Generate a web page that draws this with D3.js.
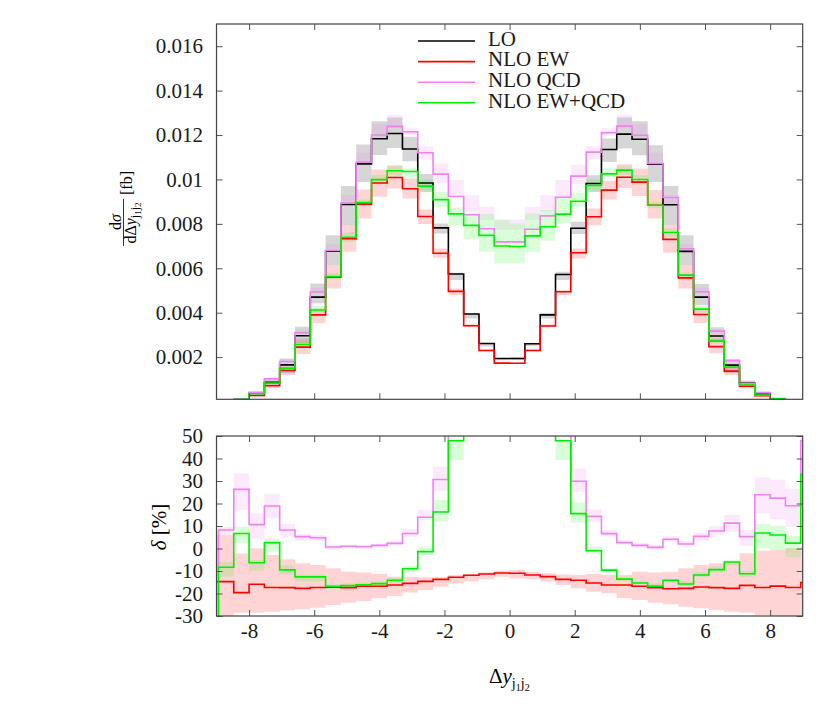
<!DOCTYPE html>
<html><head><meta charset="utf-8">
<script src="https://cdn.jsdelivr.net/npm/d3@7"></script>
<style>
svg text { font-family: "Liberation Serif", "Times New Roman", serif !important; }
</style>
</head><body style="margin:0;background:#fff"><svg id="c" width="830" height="727" font-family="Liberation Serif"></svg>
<script>
// ---------- bin edges ----------
const edgesTop = [-8.47,-8.00,-7.53,-7.06,-6.59,-6.12,-5.65,-5.18,-4.71,-4.24,-3.76,-3.29,-2.82,-2.35,-1.88,-1.41,-0.94,-0.47,0,
  0.47,0.94,1.41,1.88,2.35,2.82,3.29,3.76,4.24,4.71,5.18,5.65,6.12,6.59,7.06,7.53,8.00,8.47];
const edgesBottom = [-9.41,-8.94,-8.47,-8.00,-7.53,-7.06,-6.59,-6.12,-5.65,-5.18,-4.71,-4.24,-3.76,-3.29,-2.82,-2.35,-1.88,-1.41,-0.94,-0.47,0,
  0.47,0.94,1.41,1.88,2.35,2.82,3.29,3.76,4.24,4.71,5.18,5.65,6.12,6.59,7.06,7.53,8.00,8.47,8.94,9.41];

// ---------- top panel: dsigma/dDy [fb] ----------
const sigLO = [0.0001,0.00037,0.00086,0.00165,0.00296,0.0047,0.00677,0.00887,0.0107,0.01183,0.01207,0.01137,0.00984,0.00782,0.00574,0.00394,0.00261,0.00194,
  0.00194,0.0026,0.0039,0.00572,0.0078,0.00982,0.01135,0.01204,0.01181,0.01069,0.00886,0.00676,0.0047,0.00295,0.00164,0.00082,0.00034,0.0001];
const sigEW = [0.0001,0.00027,0.00071,0.0014,0.00245,0.0039,0.0056,0.00733,0.00889,0.00984,0.01009,0.00958,0.00833,0.00668,0.00496,0.00341,0.0023,0.00173,
  0.00172,0.0023,0.0034,0.00494,0.0067,0.00832,0.00952,0.0101,0.00988,0.00884,0.0073,0.00557,0.00392,0.00247,0.00137,0.00069,0.00026,0.0001];
const sigQCD = [0.00012,0.00041,0.00102,0.0018,0.0031,0.00493,0.0068,0.00894,0.01078,0.012,0.01239,0.01215,0.0112,0.01024,0.00923,0.00841,0.00778,0.00719,
  0.00719,0.00776,0.00836,0.0092,0.01015,0.01123,0.0121,0.0124,0.01199,0.01072,0.00919,0.00688,0.00494,0.00317,0.00185,0.0008,0.0004,0.00012];
const sigMix = [0.0001,0.00035,0.00083,0.0015,0.00257,0.00412,0.00563,0.0074,0.00896,0.00999,0.01039,0.01036,0.0097,0.00909,0.00845,0.00793,0.00748,0.007,
  0.00698,0.00746,0.00787,0.00844,0.00902,0.00973,0.01025,0.01042,0.01,0.00884,0.00761,0.00569,0.00416,0.00272,0.00155,0.00074,0.00029,0.00013];

const sigLOHi = [0.00012,0.00044,0.00098,0.00194,0.00337,0.00532,0.00749,0.0097,0.01157,0.01262,0.01279,0.01192,0.01024,0.00802,0.0058,0.00397,0.00264,0.00196,
  0.00199,0.00265,0.004,0.00584,0.00809,0.01019,0.01184,0.01279,0.01262,0.01154,0.0097,0.00749,0.00529,0.00334,0.0019,0.00095,0.00044,0.00012];
const sigLOLo = [0.00008,0.00028,0.0007,0.00127,0.00262,0.00442,0.00614,0.00794,0.00989,0.0111,0.01142,0.01082,0.00944,0.00757,0.00547,0.00374,0.00248,0.00186,
  0.00187,0.0025,0.00374,0.00547,0.00754,0.00944,0.01079,0.01139,0.01109,0.00989,0.00794,0.00614,0.00434,0.00269,0.00127,0.0007,0.00025,0.00008];
const sigEWHi = [0.00011,0.00031,0.00079,0.00157,0.00284,0.00419,0.00614,0.00794,0.00955,0.01045,0.01064,0.01004,0.00865,0.00689,0.00509,0.00348,0.00235,0.00176,
  0.00176,0.00235,0.00348,0.00502,0.00689,0.00869,0.00994,0.01069,0.01049,0.00952,0.00794,0.00614,0.00419,0.00284,0.00157,0.00082,0.00034,0.00011];
const sigEWLo = [0.00008,0.00022,0.0006,0.00119,0.00214,0.00352,0.00509,0.00674,0.00824,0.00922,0.00959,0.00914,0.00799,0.00647,0.00479,0.00334,0.00226,0.0017,
  0.0017,0.00226,0.00334,0.00479,0.00644,0.00794,0.0091,0.00962,0.00925,0.00824,0.0067,0.00509,0.00352,0.00217,0.00119,0.00059,0.00019,0.00008];
const sigQCDHi = [0.00012,0.00042,0.00106,0.0019,0.00325,0.00512,0.0071,0.0093,0.0112,0.0125,0.0129,0.0123,0.0115,0.01072,0.00997,0.00929,0.00877,0.0082,
  0.0082,0.00877,0.00929,0.00997,0.01065,0.0115,0.0123,0.0129,0.0125,0.0112,0.0093,0.0071,0.00512,0.00325,0.0019,0.00084,0.00042,0.00013];
const sigQCDLo = [0.0001,0.00036,0.00094,0.00176,0.00305,0.00487,0.00675,0.00888,0.0107,0.0119,0.0123,0.012,0.0109,0.00982,0.00922,0.00854,0.00817,0.00772,
  0.00772,0.00817,0.00854,0.00922,0.00979,0.0109,0.012,0.0123,0.0119,0.0107,0.00888,0.00675,0.00487,0.00305,0.00176,0.00076,0.00037,0.0001];
const sigMixHi = [0.00011,0.00039,0.00088,0.00157,0.0027,0.0043,0.0058,0.0076,0.0091,0.0102,0.0106,0.0105,0.01,0.00944,0.00874,0.00847,0.00844,0.00817,
  0.00802,0.00847,0.00862,0.00919,0.0094,0.01,0.0105,0.0106,0.0102,0.009,0.0078,0.0058,0.0043,0.0028,0.0016,0.00078,0.00032,0.00014];
const sigMixLo = [0.00009,0.00034,0.0008,0.00145,0.0025,0.004,0.0055,0.0072,0.0088,0.0098,0.0102,0.0101,0.0095,0.00877,0.00794,0.0073,0.00674,0.00622,
  0.00622,0.00674,0.00724,0.00802,0.00877,0.0095,0.0101,0.0102,0.0098,0.0087,0.0074,0.0055,0.004,0.0026,0.0015,0.0007,0.00027,0.00011];

// ---------- bottom panel: delta [%] ----------
const dEW = [-14.7,-14.7,-19.6,-15.9,-17.3,-17.4,-17.7,-17.3,-17.2,-17.4,-16.8,-16.8,-16.2,-15.5,-14.6,-13.7,-12.8,-11.9,-11.3,-10.9,
  -11.0,-11.8,-12.5,-13.7,-14.1,-15.3,-16.2,-16.2,-16.8,-17.4,-17.9,-17.7,-17.1,-17.4,-17.7,-16.4,-17.3,-16.7,-17.3,-15.1];
const dQCD = [-7.5,8.2,26.3,10.6,18.9,8.2,5.3,4.8,0.7,1.0,0.8,1.4,2.3,6.7,13.9,30.7,61,113,198,270,
  270,198,114,61,29.9,14.3,6.6,2.6,1.4,0.5,4.1,2.0,5.4,7.8,11.3,5.3,23.9,22.4,19.0,48];
const dMix = [-45,-8.3,6.7,-6.3,2.6,-9.5,-12.6,-12.6,-16.8,-16.5,-16.1,-15.6,-14.1,-9.0,-1.4,16.2,47.9,101,187,260,
  260,187,102,47.9,15.5,-1.0,-9.6,-13.6,-15.3,-16.7,-14.1,-15.8,-11.8,-9.4,-6.0,-11.2,6.9,6.0,2.4,33];

const dEWHi = [6,6.0,-2.2,0.1,-2.9,-4.8,-6.6,-7.3,-8.8,-10.3,-10.7,-11.3,-12.5,-12.5,-12.8,-12.8,-11.8,-11.3,-10.7,-9.9,
  -9.6,-10.3,-11.0,-11.5,-11.8,-11.3,-11.8,-11.8,-10.3,-10.7,-10.3,-8.8,-7.3,-6.6,-5.9,-2.1,-1.0,-0.7,0.1,1];
const dEWLo = [-35,-32,-28.6,-28.5,-28.1,-27.6,-27.0,-26.3,-25.1,-24.1,-23.3,-22.1,-21.1,-19.6,-18.4,-17.0,-15.5,-14.7,-13.7,-12.5,
  -13.3,-13.7,-14.7,-16.2,-17.7,-19.2,-19.9,-22.1,-22.9,-24.1,-24.8,-25.9,-26.6,-27.3,-28.1,-28.5,-29.6,-31,-31,-32];
const dQCDHi = [-5,9.7,33.4,15.6,24.2,10.9,6.5,6.0,1.5,1.8,1.6,2.2,3.5,8.7,17.1,36.4,80,130,210,290,
  290,210,130,80,35.6,17.4,8.2,3.8,2.5,1.7,5.5,3.5,7.0,10.0,14.9,8.2,31.6,30.7,26.7,55];
const dQCDLo = [-9,6.0,17.1,4.5,13.4,5.3,3.5,3.5,-0.5,0,-0.2,0.4,1.3,5.2,12.7,25.7,55,100,185,255,
  255,185,100,55,25.2,11.9,5.3,1.6,0.5,-0.3,3,1.3,3.5,6.0,7.5,1.1,15.6,13.0,9.7,45];
const dMixHi = [-40,-6,9.7,-5.1,4.5,-7.5,-11.5,-11.5,-16,-15.5,-15.2,-14.6,-13,-7.8,0.8,21.6,48,120,200,280,
  280,200,120,48,20.4,0.8,-8.8,-12.5,-14.5,-15.5,-13.5,-14.5,-10.5,-8,-5,-10,10.9,10,5.6,40];
const dMixLo = [-50,-12.5,2.3,-9.9,-1.4,-11.5,-14.5,-14.5,-18,-17.5,-17,-16.6,-15.2,-10.4,-2.9,11.9,39.3,90,170,240,
  240,170,90,39.3,11.5,-2.1,-10.5,-14.5,-16,-17.5,-15,-16.5,-12.5,-10.5,-7.5,-12.5,0.1,-0.7,-3.9,28];

// ---------- ticks & legend ----------
const xTicks = [-8,-6,-4,-2,0,2,4,6,8];
const xTickLabels = ["-8","-6","-4","-2","0","2","4","6","8"];
const yTopTicks = [0.002,0.004,0.006,0.008,0.01,0.012,0.014,0.016];
const yTopLabels = ["0.002","0.004","0.006","0.008","0.01","0.012","0.014","0.016"];
const yBotTicks = [-30,-20,-10,0,10,20,30,40,50];
const yBotLabels = ["-30","-20","-10","0","10","20","30","40","50"];
const seriesNames = ["LO","NLO EW","NLO QCD","NLO EW+QCD"];
const seriesColors = ["#000000","#ff0000","#ee82ee","#00ee00"];
const bandColors = ["rgba(0,0,0,0.16)","rgba(255,0,0,0.17)","rgba(238,130,238,0.17)","rgba(0,255,0,0.15)"];

// ---------- layout ----------
const svg = d3.select("#c");
const L = 216.5, R = 802.7;
const topY0 = 24, topY1 = 399.3, botY0 = 436, botY1 = 616;
const x = d3.scaleLinear().domain([-9,9]).range([L,R]);
const yT = d3.scaleLinear().domain([0.0001,0.017]).range([topY1,topY0]);
const yB = d3.scaleLinear().domain([-30,50]).range([botY1,botY0]);

const defs = svg.append("defs");
defs.append("clipPath").attr("id","clipT").append("rect").attr("x",L).attr("y",topY0).attr("width",R-L).attr("height",topY1-topY0);
defs.append("clipPath").attr("id","clipB").append("rect").attr("x",L).attr("y",botY0).attr("width",R-L).attr("height",botY1-botY0);

function stepPts(edges, vals){const p=[];vals.forEach((v,i)=>{p.push([edges[i],v]);p.push([edges[i+1],v]);});return p;}
function bandPts(edges, hi, lo){const p=[];hi.forEach((h,i)=>{p.push([edges[i],h,lo[i]]);p.push([edges[i+1],h,lo[i]]);});return p;}

function drawPanel(clipId, y, edges, bands, lines){
  const g = svg.append("g").attr("clip-path",`url(#${clipId})`);
  const area = d3.area().x(d=>x(d[0])).y0(d=>y(d[2])).y1(d=>y(d[1]));
  const line = d3.line().x(d=>x(d[0])).y(d=>y(d[1]));
  bands.forEach(b=>{ g.append("path").attr("d",area(bandPts(edges,b.hi,b.lo))).attr("fill",b.color).attr("stroke","none"); });
  lines.forEach(l=>{ g.append("path").attr("d",line(stepPts(edges,l.vals))).attr("fill","none")
      .attr("stroke",l.color).attr("stroke-width",1.6).attr("stroke-linejoin","miter"); });
}

drawPanel("clipT", yT, edgesTop,
  [{hi:sigLOHi,lo:sigLOLo,color:bandColors[0]},{hi:sigEWHi,lo:sigEWLo,color:bandColors[1]},
   {hi:sigQCDHi,lo:sigQCDLo,color:bandColors[2]},{hi:sigMixHi,lo:sigMixLo,color:bandColors[3]}],
  [{vals:sigLO,color:seriesColors[0]},{vals:sigEW,color:seriesColors[1]},
   {vals:sigQCD,color:seriesColors[2]},{vals:sigMix,color:seriesColors[3]}]);

drawPanel("clipB", yB, edgesBottom,
  [{hi:dEWHi,lo:dEWLo,color:bandColors[1]},{hi:dQCDHi,lo:dQCDLo,color:bandColors[2]},{hi:dMixHi,lo:dMixLo,color:bandColors[3]}],
  [{vals:dEW,color:seriesColors[1]},{vals:dQCD,color:seriesColors[2]},{vals:dMix,color:seriesColors[3]}]);

// ---------- axes ----------
const tickCol = "#555";
function styleAxis(g){ g.select(".domain").remove(); g.attr("font-family",null).attr("font-size",null);
  g.selectAll(".tick line").attr("stroke",tickCol).attr("stroke-width",1);
  g.selectAll(".tick text").attr("font-size",21).attr("fill","#1a1a1a"); }

svg.append("g").attr("transform",`translate(0,${topY1})`).call(d3.axisBottom(x).tickValues(xTicks).tickSize(-6).tickFormat("")).call(styleAxis);
svg.append("g").attr("transform",`translate(0,${topY0})`).call(d3.axisTop(x).tickValues(xTicks).tickSize(-6).tickFormat("")).call(styleAxis);
svg.append("g").attr("transform",`translate(${L},0)`).call(d3.axisLeft(yT).tickValues(yTopTicks).tickSize(-6).tickPadding(13.5)
   .tickFormat((d,i)=>yTopLabels[i])).call(styleAxis);
svg.append("g").attr("transform",`translate(${R},0)`).call(d3.axisRight(yT).tickValues(yTopTicks).tickSize(-6).tickFormat("")).call(styleAxis);
svg.append("g").attr("transform",`translate(0,${botY1})`).call(d3.axisBottom(x).tickValues(xTicks).tickSize(-6).tickPadding(7)
   .tickFormat((d,i)=>xTickLabels[i])).call(styleAxis);
svg.append("g").attr("transform",`translate(0,${botY0})`).call(d3.axisTop(x).tickValues(xTicks).tickSize(-6).tickFormat("")).call(styleAxis);
svg.append("g").attr("transform",`translate(${L},0)`).call(d3.axisLeft(yB).tickValues(yBotTicks).tickSize(-6).tickPadding(13.5)
   .tickFormat((d,i)=>yBotLabels[i])).call(styleAxis);
svg.append("g").attr("transform",`translate(${R},0)`).call(d3.axisRight(yB).tickValues(yBotTicks).tickSize(-6).tickFormat("")).call(styleAxis);

svg.append("rect").attr("x",L).attr("y",topY0).attr("width",R-L).attr("height",topY1-topY0).attr("fill","none").attr("stroke","#444").attr("stroke-width",1.2);
svg.append("rect").attr("x",L).attr("y",botY0).attr("width",R-L).attr("height",botY1-botY0).attr("fill","none").attr("stroke","#444").attr("stroke-width",1.2);

// ---------- legend ----------
const leg = svg.append("g");
seriesNames.forEach((n,i)=>{
  const yy = 41 + i*20.6;
  leg.append("line").attr("x1",418).attr("x2",475).attr("y1",yy).attr("y2",yy).attr("stroke",seriesColors[i]).attr("stroke-width",1.6);
  leg.append("text").attr("x",488).attr("y",yy+4.8).attr("font-size",21).attr("fill","#1a1a1a").text(n);
});

// ---------- axis titles ----------
svg.append("text").attr("transform","translate(132,183) rotate(-90)").attr("text-anchor","middle").attr("font-size",16).text("[fb]");
svg.append("line").attr("x1",123.5).attr("x2",123.5).attr("y1",199).attr("y2",246).attr("stroke","#1a1a1a").attr("stroke-width",0.9);
const num = svg.append("text").attr("transform","translate(120.5,222) rotate(-90)").attr("text-anchor","middle").attr("font-size",16);
num.append("tspan").text("d");
num.append("tspan").attr("font-style","italic").text("σ");
const den = svg.append("text").attr("transform","translate(135.5,223) rotate(-90)").attr("text-anchor","middle").attr("font-size",16);
den.append("tspan").text("dΔ");
den.append("tspan").attr("font-style","italic").text("y");
den.append("tspan").attr("font-size",12).attr("dy",3).text("j");
den.append("tspan").attr("font-size",9).attr("dy",2).text("1");
den.append("tspan").attr("font-size",12).attr("dy",-2).text("j");
den.append("tspan").attr("font-size",9).attr("dy",2).text("2");

const dl = svg.append("text").attr("transform","translate(166,527) rotate(-90)").attr("text-anchor","middle").attr("font-size",21);
dl.append("tspan").attr("font-style","italic").text("δ");
dl.append("tspan").text(" [%]");

const xl = svg.append("text").attr("x",489).attr("y",683).attr("font-size",21);
xl.append("tspan").text("Δ");
xl.append("tspan").attr("font-style","italic").text("y");
xl.append("tspan").attr("font-size",14).attr("dy",5).text("j");
xl.append("tspan").attr("font-size",10).attr("dy",3).text("1");
xl.append("tspan").attr("font-size",14).attr("dy",-3).text("j");
xl.append("tspan").attr("font-size",10).attr("dy",3).text("2");
</script></body></html>
